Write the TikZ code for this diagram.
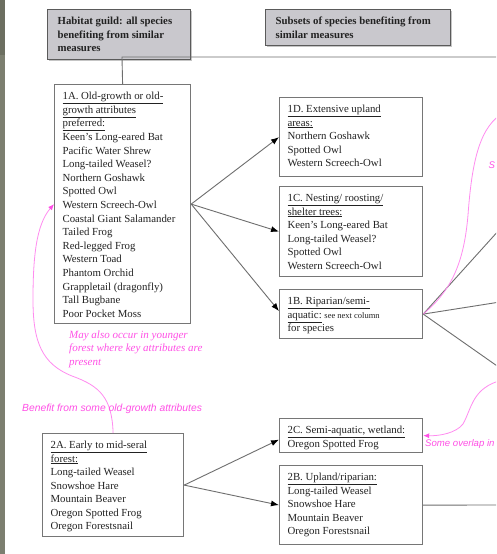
\documentclass[tikz,border=0pt]{standalone}
\usepackage{fontspec}
\setmainfont{Liberation Serif}
\newfontfamily\notesans{Liberation Sans}
\usetikzlibrary{arrows.meta,shadows}

\definecolor{boxline}{HTML}{767676}
\definecolor{connline}{HTML}{6E6E6E}
\definecolor{headfill}{HTML}{C9C8CD}
\definecolor{headline}{HTML}{5A5A5A}
\definecolor{notepink}{HTML}{FF50E6}
\definecolor{curvepink}{HTML}{FF8CF0}
\definecolor{inktext}{HTML}{222222}
\definecolor{stripdark}{HTML}{6C6F61}
\definecolor{stripmid}{HTML}{7C7F70}

% box body: width, height, lines (first baseline 15pt below the top,
% fixed line pitch even where a line is underlined)
\newcommand{\boxbody}[3]{\parbox[c][#2][t]{#1}{\raggedright\lineskiplimit=-100pt\rule{0pt}{15pt}#3}}
\newcommand{\ul}[1]{\underline{#1}}

\tikzset{
  listbox/.style={draw=boxline, line width=1.2pt, inner xsep=8pt, inner ysep=0pt,
    anchor=north west, text=inktext, font=\fontsize{10.8}{13.5}\selectfont},
  headbox/.style={listbox, fill=headfill, draw=headline, inner xsep=10pt,
    font=\bfseries\fontsize{10.8}{13.5}\selectfont,
    drop shadow={shadow xshift=1.2pt, shadow yshift=-1.2pt, fill=black!45}},
  conn/.style={draw=connline, line width=0.9pt},
  arrowconn/.style={conn, -{Latex[length=8pt,width=6pt,color=black]}},
  pinkcurve/.style={draw=curvepink, line width=0.8pt},
  pinkarrow/.style={pinkcurve, -{Latex[length=6pt,width=5pt,color=notepink]}},
  pinknote/.style={text=notepink, inner sep=0pt},
}

\begin{document}
\begin{tikzpicture}[x=1pt,y=-1pt]
\useasboundingbox (0,0) rectangle (496,554);
\clip (0,0) rectangle (496,554);
\fill[white] (0,0) rectangle (496,554);

% slide edge strip
\fill[stripmid] (0,0) rectangle (5,554);
\fill[stripdark] (0,0) rectangle (5,55);

% column headers
\node[headbox] (head1) at (47,9) {\boxbody{123pt}{50pt}{Habitat guild: all species\\benefiting from similar\\measures}};
\node[headbox] (head2) at (265,9) {\boxbody{165pt}{36pt}{Subsets of species benefiting from\\similar measures}};

% guild boxes
\node[listbox, font=\fontsize{10.8}{13.6}\selectfont] (g1A) at (54,84) {\boxbody{120pt}{239pt}{%
  \ul{1A. Old-growth or old-}\\\ul{growth attributes}\\\ul{preferred:}\\
  Keen's Long-eared Bat\\Pacific Water Shrew\\Long-tailed Weasel?\\Northern Goshawk\\
  Spotted Owl\\Western Screech-Owl\\Coastal Giant Salamander\\Tailed Frog\\
  Red-legged Frog\\Western Toad\\Phantom Orchid\\Grappletail (dragonfly)\\
  Tall Bugbane\\Poor Pocket Moss}};

\node[listbox] (g2A) at (42,433) {\boxbody{125pt}{103pt}{%
  \ul{2A. Early to mid-seral}\\\ul{forest:}\\Long-tailed Weasel\\Snowshoe Hare\\
  Mountain Beaver\\Oregon Spotted Frog\\Oregon Forestsnail}};

% subset boxes
\node[listbox] (s1D) at (279,97) {\boxbody{127pt}{79pt}{%
  \ul{1D. Extensive upland}\\\ul{areas:}\\Northern Goshawk\\Spotted Owl\\Western Screech-Owl}};
\node[listbox] (s1C) at (279,186) {\boxbody{127pt}{90pt}{%
  \ul{1C. Nesting/ roosting/}\\\ul{shelter trees:}\\Keen's Long-eared Bat\\Long-tailed Weasel?\\
  Spotted Owl\\Western Screech-Owl}};
\node[listbox] (s1B) at (279,289) {\boxbody{127pt}{49pt}{%
  \ul{1B. Riparian/semi-}\\\ul{aquatic:} {\fontsize{8.5}{13.5}\selectfont see next column}\\for species}};
\node[listbox] (s2C) at (279,418) {\boxbody{127pt}{34pt}{%
  \ul{2C. Semi-aquatic, wetland:}\\Oregon Spotted Frog}};
\node[listbox] (s2B) at (279,465) {\boxbody{127pt}{79pt}{%
  \ul{2B. Upland/riparian:}\\Long-tailed Weasel\\Snowshoe Hare\\Mountain Beaver\\Oregon Forestsnail}};

% header rail
\coordinate (hub) at (122,57);
\coordinate (railR) at (500,57);
\draw[conn] (railR) -- (hub) -- (g1A.north);

% guild to subsets
\draw[arrowconn] (g1A.east) -- (s1D.west);
\draw[arrowconn] (g1A.east) -- (s1C.west);
\draw[arrowconn] (g1A.east) -- ([yshift=3pt]s1B.west);
\draw[arrowconn] (g2A.east) -- ([yshift=-4pt]s2C.west);
\draw[arrowconn] (g2A.east) -- (s2B.west);

% links running on to the next column
\coordinate (outA) at (500,229);
\coordinate (outB) at (500,302);
\coordinate (outC) at (500,368);
\coordinate (outD) at (500,505);
\draw[conn] (s1B.east) -- (outA);
\draw[conn] (s1B.east) -- (outB);
\draw[conn] (s1B.east) -- (outC);
\draw[conn] (s2B.east) -- (outD);

% hand-drawn annotations
\coordinate (pinkTop) at (505,112);
\coordinate (pinkIn) at (502,380);
\draw[pinkcurve] (s1B.east) .. controls (452,290) and (464,262) .. (468,215)
  .. controls (472,160) and (480,125) .. (pinkTop);
\draw[pinkarrow] (pinkIn) .. controls (472,388) and (472,408) .. (463,424)
  .. controls (456,433) and (440,436) .. (s2C.east);
\draw[pinkarrow] (g2A.north) .. controls (112,398) and (100,386) .. (72,376)
  .. controls (42,364) and (33,342) .. (33,300)
  .. controls (33,258) and (36,225) .. (g1A.west);

\node[pinknote, anchor=north west, font=\itshape\fontsize{11}{13.5}\selectfont] (noteYoung) at (69,326)
  {\parbox[t]{150pt}{\raggedright\rule{0pt}{12pt}May also occur in younger\\forest where key attributes are\\present}};
\node[pinknote, anchor=base west, font=\notesans\itshape\fontsize{10.3}{11}\selectfont] (noteOld) at (22,411)
  {Benefit from some old-growth attributes};
\node[pinknote, anchor=base west, font=\notesans\itshape\fontsize{9.6}{11}\selectfont] (noteOverlap) at (425,446)
  {Some overlap in};
\node[pinknote, anchor=base west, font=\notesans\itshape\fontsize{9.6}{11}\selectfont] (noteEdge) at (488.5,168)
  {S};
\end{tikzpicture}
\end{document}
